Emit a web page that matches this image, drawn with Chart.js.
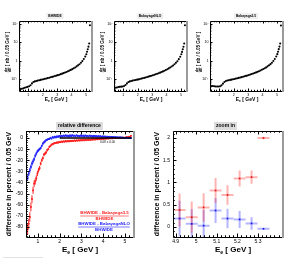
<!DOCTYPE html>
<html>
<head>
<meta charset="utf-8">
<script src="https://cdn.jsdelivr.net/npm/chart.js@4.4.1/dist/chart.umd.min.js"></script>
<style>
  body { margin: 0; width: 292px; height: 270px; background: #fff; position: relative; overflow: hidden; }
  .pad { position: absolute; }
  .pad canvas { display: block; }
  #rule { position: absolute; left: 3px; top: 257px; width: 40px; height: 1px; background: #e2e2e2; }
</style>
</head>
<body>
<div class="pad" style="left:0;top:0"><canvas id="spec1" width="97" height="106"></canvas></div>
<div class="pad" style="left:95px;top:0"><canvas id="spec2" width="97" height="106"></canvas></div>
<div class="pad" style="left:191px;top:0"><canvas id="spec3" width="97" height="106"></canvas></div>
<div class="pad" style="left:0;top:112px"><canvas id="diff" width="146" height="158"></canvas></div>
<div class="pad" style="left:146px;top:112px"><canvas id="zoom" width="146" height="158"></canvas></div>
<div id="rule"></div>
<script>
// ---- top row: spectra dsigma/dE [nb / 0.05 GeV] ----
const eSpec = [0.35,0.45,0.55,0.65,0.75,0.85,0.95,1.05,1.15,1.25,1.35,1.45,1.55,1.65,1.75,1.85,1.95,2.05,2.15,2.25,
  2.35,2.45,2.55,2.65,2.75,2.85,2.95,3.05,3.15,3.25,3.35,3.45,3.55,3.65,3.75,3.85,3.95,4.05,4.15,4.25,
  4.35,4.45,4.55,4.65,4.75,4.85,4.95,5.025,5.075,5.125,5.175,5.225,5.275];
const bhwide = [0.029,0.030,0.031,0.033,0.035,0.037,0.039,0.042,0.048,0.060,0.071,0.077,0.081,0.085,0.089,0.093,0.097,0.101,0.106,0.111,
  0.116,0.122,0.128,0.135,0.142,0.150,0.159,0.168,0.178,0.190,0.203,0.217,0.233,0.251,0.272,0.296,0.324,0.356,0.395,0.44,
  0.50,0.57,0.66,0.79,0.97,1.25,1.7,2.3,3.1,4.3,5.9,8.8,85];
const babNLO = [0.034,0.035,0.036,0.038,0.039,0.040,0.041,0.043,0.049,0.060,0.071,0.077,0.081,0.085,0.088,0.092,0.096,0.099,0.104,0.109,
  0.114,0.120,0.126,0.133,0.140,0.148,0.157,0.166,0.176,0.188,0.200,0.214,0.230,0.248,0.268,0.292,0.320,0.351,0.390,0.434,
  0.493,0.562,0.651,0.780,0.958,1.235,1.68,2.27,3.06,4.25,5.83,8.7,85];
const bab35 = [0.043,0.043,0.043,0.042,0.041,0.041,0.041,0.042,0.047,0.058,0.072,0.081,0.086,0.089,0.093,0.096,0.100,0.104,0.109,0.114,
  0.119,0.125,0.131,0.138,0.145,0.153,0.162,0.171,0.181,0.193,0.206,0.220,0.236,0.254,0.275,0.299,0.327,0.359,0.398,0.443,
  0.503,0.573,0.664,0.795,0.975,1.257,1.71,2.31,3.12,4.32,5.93,8.8,83];
const specTicksX = [1, 2, 3, 4, 5];
const specLabelsX = ['1', '2', '3', '4', '5'];
const specTicksY = [0.1, 1, 10, 100];
const specLabelsY = ['10\u207B\u00B9', '1', '10', '10\u00B2'];

// ---- bottom left: relative difference in percent ----
const eDiff = [0.525,0.575,0.625,0.675,0.725,0.775,0.825,0.875,0.925,0.975,
  1.025,1.075,1.125,1.175,1.225,1.275,1.325,1.375,1.425,1.475,
  1.525,1.575,1.625,1.675,1.725,1.775,1.825,1.875,1.925,1.975,
  2.025,2.075,2.125,2.175,2.225,2.275,2.325,2.375,2.425,2.475,
  2.525,2.575,2.625,2.675,2.725,2.775,2.825,2.875,2.925,2.975,
  3.025,3.075,3.125,3.175,3.225,3.275,3.325,3.375,3.425,3.475,
  3.525,3.575,3.625,3.675,3.725,3.775,3.825,3.875,3.925,3.975,
  4.025,4.075,4.125,4.175,4.225,4.275,4.325,4.375,4.425,4.475,
  4.525,4.575,4.625,4.675,4.725,4.775,4.825,4.875,4.925,4.975,
  5.025,5.075,5.125,5.175,5.225,5.275];
const diff35 = [-82,-77,-71,-62,-55,-47,-41,-39,-36,-32,
  -29,-27,-23,-20,-18,-15,-14,-13,-11,-10,
  -8,-7,-6,-5.5,-5,-4.5,-4.5,-4,-4.2,-3.6,
  -3.8,-3.2,-3.5,-3,-3.3,-2.8,-3.1,-2.6,-3,-2.5,
  -2.8,-2.4,-2.7,-2.2,-2.6,-2.1,-2.4,-2,-2.3,-1.9,
  -2.2,-1.8,-2.1,-1.6,-2,-1.5,-1.8,-1.4,-1.7,-1.2,
  -1.5,-1.1,-1.4,-1,-1.2,-0.8,-1.1,-0.7,-0.9,-0.5,
  -0.8,-0.4,-0.6,-0.3,-0.5,-0.2,-0.4,-0.1,-0.3,0,
  -0.1,0.1,0,0.2,0.1,0.3,0.2,0.3,0.38,0.21,
  0.43,0.81,0.72,1.08,1.12,2.0];
const err35 = [5,4.5,4.2,4,3.6,3.3,3,2.8,2.5,2.3,
  2.1,1.9,1.7,1.6,1.5,1.4,1.3,1.2,1.1,1.0,
  1.0,0.95,0.9,0.9,0.85,0.8,0.8,0.75,0.75,0.7,
  0.7,0.7,0.68,0.68,0.66,0.66,0.64,0.64,0.62,0.62,
  0.6,0.6,0.58,0.58,0.56,0.56,0.55,0.55,0.54,0.54,
  0.53,0.53,0.52,0.52,0.5,0.5,0.5,0.5,0.48,0.48,
  0.48,0.47,0.47,0.46,0.46,0.45,0.45,0.44,0.44,0.43,
  0.43,0.42,0.42,0.41,0.41,0.4,0.4,0.4,0.39,0.39,
  0.39,0.38,0.38,0.38,0.37,0.37,0.37,0.37,0.38,0.35,
  0.33,0.28,0.25,0.2,0.15,0.04];
const diffNLO = [-36,-32,-29,-26,-23,-21,-19,-16,-14,-12,
  -11,-10,-9,-7,-5,-4,-3,-2,-1.5,-1,
  -0.8,0.2,-0.5,0.8,0.3,1.2,0.6,1.4,1.0,1.8,
  1.2,2.0,1.5,2.2,1.6,2.4,1.8,2.1,1.4,2.3,
  1.7,2.5,1.9,2.2,1.5,2.4,1.8,2.0,1.6,2.3,
  1.8,2.1,1.5,2.3,1.7,2.0,1.4,2.2,1.6,1.9,
  1.3,2.0,1.5,1.8,1.2,1.7,1.4,1.6,1.1,1.5,
  1.2,1.4,0.9,1.3,1.0,1.1,0.7,1.0,0.8,0.9,
  0.6,0.8,0.5,0.7,0.4,0.6,0.3,0.5,0.19,0.08,
  0.03,0.37,0.19,0.17,0.08,-0.04];
const errNLO = [2.6,2.4,2.2,2.0,1.9,1.8,1.7,1.6,1.5,1.4,
  1.3,1.2,1.1,1.0,1.0,0.9,0.9,0.85,0.8,0.8,
  0.75,0.75,0.7,0.7,0.68,0.68,0.66,0.66,0.64,0.64,
  0.62,0.62,0.6,0.6,0.58,0.58,0.56,0.56,0.55,0.55,
  0.54,0.54,0.53,0.53,0.52,0.52,0.5,0.5,0.5,0.5,
  0.49,0.49,0.48,0.48,0.47,0.47,0.46,0.46,0.45,0.45,
  0.45,0.44,0.44,0.43,0.43,0.42,0.42,0.41,0.41,0.4,
  0.4,0.4,0.39,0.39,0.39,0.38,0.38,0.38,0.37,0.37,
  0.37,0.37,0.36,0.36,0.36,0.36,0.35,0.35,0.36,0.32,
  0.3,0.27,0.23,0.19,0.13,0.02];
const diffHalf = 0.025;
const fitRange = [2.0, 5.3];
const fitValue = 0.08;
const diffTicksX = [1, 2, 3, 4, 5];
const diffLabelsX = ['1', '2', '3', '4', '5'];
const diffTicksY = [-80, -70, -60, -50, -40, -30, -20, -10, 0];
const diffLabelsY = ['-80', '-70', '-60', '-50', '-40', '-30', '-20', '-10', '0'];

// ---- bottom right: zoom on the last bins ----
const eZoom = [4.919, 4.978, 5.036, 5.094, 5.152, 5.211, 5.269, 5.327];
const zoom35 = [0.38, 0.22, 0.44, 0.82, 0.72, 1.09, 1.12, 2.0];
const zoomErr35 = [0.37, 0.35, 0.32, 0.28, 0.22, 0.18, 0.15, 0.03];
const zoomNLO = [0.19, 0.07, 0.03, 0.37, 0.19, 0.17, 0.08, -0.04];
const zoomErrNLO = [0.40, 0.33, 0.35, 0.28, 0.22, 0.19, 0.14, 0.02];
const zoomHalf = 0.029;
const zoomTicksX = [4.9, 5, 5.1, 5.2, 5.3];
const zoomLabelsX = ['4.9', '5', '5.1', '5.2', '5.3'];
const zoomTicksY = [0, 0.5, 1, 1.5, 2];
const zoomLabelsY = ['0', '0.5', '1', '1.5', '2'];

const FONT = '"Liberation Sans", Arial, Helvetica, sans-serif';
const RED = '#ff2424';
const BLUE = '#2424ff';

function txt(ctx, s, x, y, size, o = {}) {
  ctx.font = (o.bold ? 'bold ' : '') + size + 'px ' + FONT;
  ctx.fillStyle = o.color || '#000';
  ctx.textAlign = o.align || 'center';
  ctx.textBaseline = 'middle';
  ctx.fillText(s, x, y);
}

// "E_e [ GeV ]"
function eTitle(ctx, cx, cy, size) {
  ctx.font = 'bold ' + size + 'px ' + FONT;
  const wE = ctx.measureText('E').width;
  const rest = ' [ GeV ]';
  const wR = ctx.measureText(rest).width;
  ctx.font = 'bold ' + size * 0.65 + 'px ' + FONT;
  const wS = ctx.measureText('e').width;
  const x = cx - (wE + wS + wR) / 2;
  txt(ctx, 'E', x, cy, size, { bold: true, align: 'left' });
  txt(ctx, 'e', x + wE, cy + size * 0.3, size * 0.65, { bold: true, align: 'left' });
  txt(ctx, rest, x + wE + wS, cy, size, { bold: true, align: 'left' });
}

function titleBox(ctx, s, cx, cy, size, bg) {
  ctx.font = 'bold ' + size + 'px ' + FONT;
  const w = ctx.measureText(s).width + 4;
  const h = size + 3;
  ctx.fillStyle = bg;
  ctx.fillRect(cx - w / 2, cy - h / 2, w, h);
  txt(ctx, s, cx, cy, size, { bold: true });
}

function fracText(ctx, num, den, cx, cy, size, color) {
  ctx.font = 'bold ' + size + 'px ' + FONT;
  const w = Math.max(ctx.measureText(num).width, ctx.measureText(den).width);
  txt(ctx, num, cx, cy - size * 0.62, size, { bold: true, color });
  txt(ctx, den, cx, cy + size * 0.68, size, { bold: true, color });
  ctx.strokeStyle = color;
  ctx.lineWidth = 0.6;
  ctx.beginPath();
  ctx.moveTo(cx - w / 2, cy);
  ctx.lineTo(cx + w / 2, cy);
  ctx.stroke();
}

// frame with inside ticks (ROOT look)
function rootFrame(xMinor, yMinor, logY, len) {
  return {
    id: 'rootFrame',
    afterDatasetsDraw(chart) {
      const { ctx, chartArea: a, scales: { x, y } } = chart;
      ctx.save();
      ctx.strokeStyle = '#000';
      ctx.lineWidth = 1;
      ctx.beginPath();
      const vx = (v, l) => {
        const p = Math.round(x.getPixelForValue(v)) + 0.5;
        ctx.moveTo(p, a.bottom); ctx.lineTo(p, a.bottom - l);
        ctx.moveTo(p, a.top); ctx.lineTo(p, a.top + l);
      };
      const hy = (v, l) => {
        const p = Math.round(y.getPixelForValue(v)) + 0.5;
        ctx.moveTo(a.left, p); ctx.lineTo(a.left + l, p);
      };
      x.ticks.forEach(t => vx(t.value, len));
      for (let v = Math.ceil(x.min / xMinor - 1e-6) * xMinor; v <= x.max; v += xMinor) vx(v, len / 2);
      y.ticks.forEach(t => hy(t.value, len));
      if (logY) {
        for (let k = Math.floor(Math.log10(y.min)); k <= Math.ceil(Math.log10(y.max)); k++) {
          for (let m = 2; m <= 9; m++) {
            const v = m * Math.pow(10, k);
            if (v > y.min && v < y.max) hy(v, len / 2);
          }
        }
      } else {
        for (let v = Math.ceil(y.min / yMinor - 1e-6) * yMinor; v <= y.max; v += yMinor) hy(v, len / 2);
      }
      ctx.stroke();
      ctx.beginPath();
      ctx.moveTo(a.left + 0.5, a.top + 0.5);
      ctx.lineTo(a.left + 0.5, a.bottom + 0.5);
      ctx.lineTo(a.right, a.bottom + 0.5);
      ctx.moveTo(a.left + 0.5, a.top + 0.5);
      ctx.lineTo(a.right, a.top + 0.5);
      ctx.stroke();
      ctx.strokeStyle = '#9a9a9a';
      ctx.lineWidth = 2;
      ctx.beginPath();
      ctx.moveTo(a.right + 1, a.top);
      ctx.lineTo(a.right + 1, a.bottom + 1);
      ctx.stroke();
      ctx.restore();
    }
  };
}

function errorBars(width, half) {
  return {
    id: 'errorBars',
    beforeDatasetsDraw(chart) {
      const { ctx, chartArea: a, scales: { x, y } } = chart;
      ctx.save();
      ctx.beginPath();
      ctx.rect(a.left, a.top, a.right - a.left, a.bottom - a.top);
      ctx.clip();
      ctx.lineWidth = width;
      chart.data.datasets.forEach(ds => {
        if (!ds.yErr) return;
        ctx.strokeStyle = ds.barColor;
        ds.data.forEach((p, i) => {
          const px = x.getPixelForValue(p.x);
          const py = y.getPixelForValue(p.y);
          ctx.beginPath();
          ctx.moveTo(px, y.getPixelForValue(p.y - ds.yErr[i]));
          ctx.lineTo(px, y.getPixelForValue(p.y + ds.yErr[i]));
          ctx.moveTo(x.getPixelForValue(p.x - half), py);
          ctx.lineTo(x.getPixelForValue(p.x + half), py);
          ctx.stroke();
        });
      });
      ctx.restore();
    }
  };
}

function axis(type, min, max, majors, labels, size, pad, fit, vertical) {
  return {
    type, min, max,
    grid: { display: false, drawTicks: false },
    border: { display: false },
    afterBuildTicks: s => { s.ticks = majors.map(v => ({ value: v })); },
    afterFit: s => { if (vertical) s.width = fit; else s.height = fit; },
    ticks: {
      autoSkip: false, maxRotation: 0, minRotation: 0, padding: pad, color: '#000',
      font: { family: FONT, size },
      callback: (v, i) => labels[i]
    }
  };
}

function pts(xs, ys) {
  return xs.map((e, i) => ({ x: e, y: ys[i] }));
}

const base = {
  responsive: false,
  animation: false,
  events: [],
  plugins: { legend: { display: false }, tooltip: { enabled: false }, title: { display: false } }
};

// top row
[['spec1', 'BHWIDE', bhwide], ['spec2', 'BabayagaNLO', babNLO], ['spec3', 'Babayaga3.5', bab35]].forEach(([id, name, vals]) => {
  new Chart(document.getElementById(id), {
    type: 'scatter',
    data: {
      datasets: [{
        data: pts(eSpec, vals),
        pointStyle: 'circle', pointRadius: 1.05, pointBorderWidth: 0,
        pointBackgroundColor: '#000'
      }]
    },
    options: {
      ...base,
      layout: { padding: { left: 0, right: 6, top: 21, bottom: 0 } },
      scales: {
        x: axis('linear', 0.35, 5.35, specTicksX, specLabelsX, 3.6, 1.5, 15, false),
        y: axis('logarithmic', 0.0232, 145, specTicksY, specLabelsY, 3.6, 1.5, 19, true)
      }
    },
    plugins: [rootFrame(0.2, 0, true, 2.5), {
      id: 'specText',
      afterDraw(chart) {
        const { ctx, chartArea: a } = chart;
        const cx = (a.left + a.right) / 2;
        titleBox(ctx, name, cx, 16, 3.3, '#efefef');
        eTitle(ctx, cx + 1, 100, 5);
        ctx.save();
        ctx.translate(a.left - 11, a.top + 31);
        ctx.rotate(-Math.PI / 2);
        ctx.font = 'bold 4.6px ' + FONT;
        const br = '[ nb / 0.05 GeV ]';
        const wb = ctx.measureText(br).width;
        ctx.font = 'bold 3.6px ' + FONT;
        const wf = ctx.measureText('d\u03C3').width;
        const x0 = -(wf + 1.5 + wb) / 2;
        fracText(ctx, 'd\u03C3', 'dE', x0 + wf / 2, 0, 3.6, '#000');
        txt(ctx, br, x0 + wf + 1.5, 0, 4.6, { bold: true, align: 'left' });
        ctx.restore();
      }
    }]
  });
});

// bottom left: relative difference
new Chart(document.getElementById('diff'), {
  type: 'scatter',
  data: {
    datasets: [
      { data: [{ x: fitRange[0], y: fitValue }, { x: fitRange[1], y: fitValue }], showLine: true,
        borderColor: '#000', borderWidth: 1.5, pointRadius: 0 },
      { data: pts(eDiff, diffNLO), yErr: errNLO, barColor: BLUE,
        pointStyle: 'rect', pointRadius: 1.2, pointBorderWidth: 0, pointBackgroundColor: BLUE },
      { data: pts(eDiff, diff35), yErr: err35, barColor: RED,
        pointStyle: 'rect', pointRadius: 1.2, pointBorderWidth: 0, pointBackgroundColor: RED }
    ]
  },
  options: {
    ...base,
    layout: { padding: { left: 0, right: 13, top: 19, bottom: 13 } },
    scales: {
      x: axis('linear', 0.45, 5.37, diffTicksX, diffLabelsX, 5, 2, 20, false),
      y: axis('linear', -89, 6.3, diffTicksY, diffLabelsY, 5, 3, 26, true)
    }
  },
  plugins: [errorBars(1, diffHalf), rootFrame(0.2, 2, false, 3.5), {
    id: 'diffText',
    afterDraw(chart) {
      const { ctx, chartArea: a } = chart;
      titleBox(ctx, 'relative difference', (a.left + a.right) / 2, a.top - 5, 5, '#dcdcdc');
      eTitle(ctx, a.left + 54, a.bottom + 13, 8);
      ctx.save();
      ctx.translate(a.left - 17, (a.top + a.bottom) / 2);
      ctx.rotate(-Math.PI / 2);
      txt(ctx, 'difference in percent / 0.05 GeV', 0, 0, 7, { bold: true });
      ctx.restore();
      fracText(ctx, 'BHWIDE - Babayaga3.5', 'BHWIDE', a.left + 78.5, a.top + 85, 4.4, RED);
      fracText(ctx, 'BHWIDE - BabayagaNLO', 'BHWIDE', a.left + 78, a.top + 96, 4.4, BLUE);
      txt(ctx, '0.08 \u00B1 0.00', a.left + 74, a.top + 11, 3, { align: 'left' });
    }
  }]
});

// bottom right: zoom in on the end point
new Chart(document.getElementById('zoom'), {
  type: 'scatter',
  data: {
    datasets: [
      { data: pts(eZoom, zoomNLO), yErr: zoomErrNLO, barColor: 'rgba(40,40,255,0.35)', clip: 0,
        pointStyle: 'rect', pointRadius: 1.2, pointBorderWidth: 0, pointBackgroundColor: '#1010e0' },
      { data: pts(eZoom, zoom35), yErr: zoomErr35, barColor: 'rgba(255,40,40,0.35)', clip: 0,
        pointStyle: 'rect', pointRadius: 1.2, pointBorderWidth: 0, pointBackgroundColor: '#e01010' }
    ]
  },
  options: {
    ...base,
    layout: { padding: { left: 0, right: 10, top: 19, bottom: 13 } },
    scales: {
      x: axis('linear', 4.887, 5.417, zoomTicksX, zoomLabelsX, 5, 2, 20, false),
      y: axis('linear', -0.225, 2.157, zoomTicksY, zoomLabelsY, 5, 3, 27, true)
    }
  },
  plugins: [errorBars(2, zoomHalf), rootFrame(0.02, 0.1, false, 3.5), {
    id: 'zoomText',
    afterDraw(chart) {
      const { ctx, chartArea: a } = chart;
      titleBox(ctx, 'zoom in', (a.left + a.right) / 2 - 2, a.top - 5, 5, '#dcdcdc');
      eTitle(ctx, a.left + 60, a.bottom + 13, 8);
      ctx.save();
      ctx.translate(a.left - 16, (a.top + a.bottom) / 2);
      ctx.rotate(-Math.PI / 2);
      txt(ctx, 'difference in percent / 0.05 GeV', 0, 0, 7, { bold: true });
      ctx.restore();
    }
  }]
});
</script>
</body>
</html>
